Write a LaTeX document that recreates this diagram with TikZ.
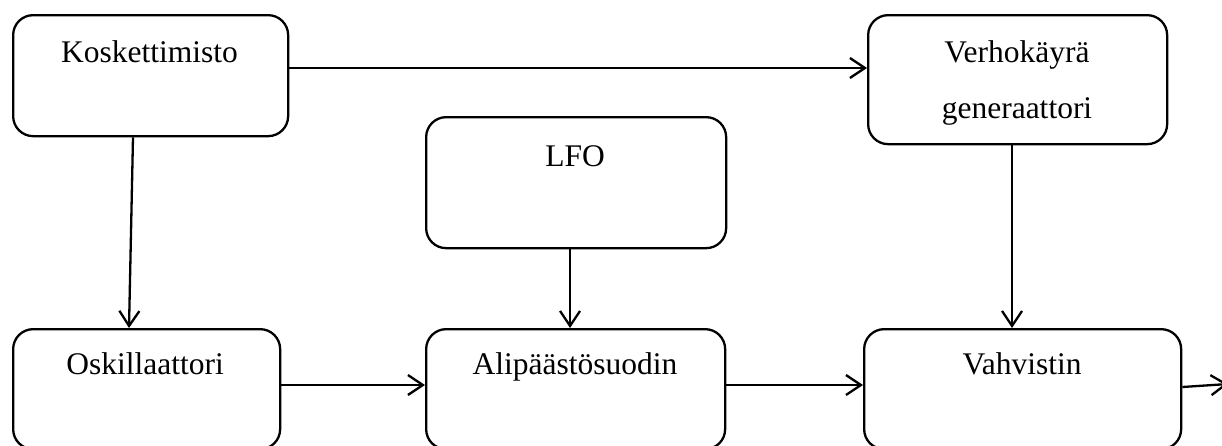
\documentclass[tikz,border=0pt]{standalone}
\usepackage{fontspec}
\setmainfont{Liberation Serif}
\usetikzlibrary{arrows.meta}
\tikzset{
  blk/.style={draw=black, line width=2.3pt, rounded corners=20pt, inner sep=0pt, anchor=north west},
  lbl/.style={anchor=base, inner sep=0pt, font=\fontsize{31.5}{36}\selectfont},
  con/.style={line width=2.3pt, -{Straight Barb[length=15pt,width=20pt,line width=2.3pt]}}
}
\begin{document}
\begin{tikzpicture}[x=1pt,y=-1pt]
\useasboundingbox (0,0) rectangle (1222,445);
\clip (0,0) rectangle (1222,445);
% boxes
\node[blk, minimum width=275pt, minimum height=121pt] (kos) at (12,14) {};
\node[blk, minimum width=299pt, minimum height=129pt] (ver) at (867,14) {};
\node[blk, minimum width=300pt, minimum height=131pt] (lfo) at (425,116) {};
\node[blk, minimum width=267pt, minimum height=120pt] (osk) at (12,328) {};
\node[blk, minimum width=299pt, minimum height=120pt] (ali) at (425,328) {};
\node[blk, minimum width=317pt, minimum height=120pt] (vah) at (863,328) {};
% labels
\node[lbl] (tkos) at (149.5,62) {Koskettimisto};
\node[lbl] (tver1) at (1017,62) {Verhokäyrä};
\node[lbl] (tver2) at (1017,118) {generaattori};
\node[lbl] (tlfo) at (575,166) {LFO};
\node[lbl] (tosk) at (145,374) {Oskillaattori};
\node[lbl] (tali) at (575,374) {Alipäästösuodin};
\node[lbl] (tvah) at (1022,374) {Vahvistin};
% connectors
\coordinate (out) at (1228,384);
\draw[con] (kos.east |- 0,68) -- (ver.west |- 0,68);
\draw[con] (kos.south -| 133,0) -- (osk.north -| 129,0);
\draw[con] (lfo.south -| 570,0) -- (ali.north -| 570,0);
\draw[con] (ver.south -| 1012,0) -- (vah.north -| 1012,0);
\draw[con] (osk.east |- 0,385) -- (ali.west |- 0,385);
\draw[con] (ali.east |- 0,385) -- (vah.west |- 0,385);
\draw[con] (vah.east |- 0,387) -- (out);
\end{tikzpicture}
\end{document}
